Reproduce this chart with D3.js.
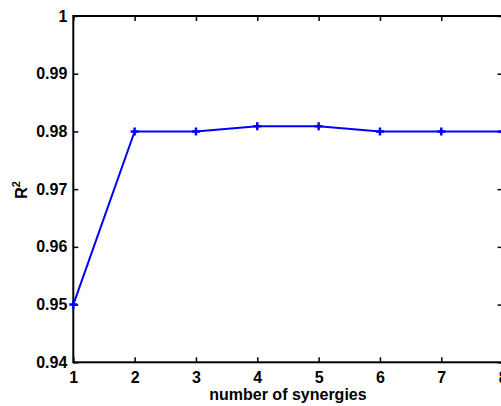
<!DOCTYPE html>
<html>
<head>
<script src="https://d3js.org/d3.v7.min.js"></script>
<style>
    body { margin: 0; background: #fff; }
    text { font-family: "Liberation Sans", Arial, sans-serif; font-weight: bold; }
</style>
</head>
<body>
<div class="diagram"></div>
<script>
    // data
    var synergies = [1, 2, 3, 4, 5, 6, 7, 8];
    var r2 = [0.95, 0.98, 0.98, 0.9809, 0.9809, 0.98, 0.98, 0.98];
    var xTicks = [1, 2, 3, 4, 5, 6, 7, 8];
    var yTicks = [0.94, 0.95, 0.96, 0.97, 0.98, 0.99, 1];

    var w = 501, h = 406;
    // plot box edges
    var pl = 73.3, pr = 502.6, pt = 16, pb = 362.3;

    var xScale = d3.scaleLinear().domain([1, 8]).range([pl, pr]);
    var yScale = d3.scaleLinear().domain([0.94, 1]).range([pb, pt]);

    var svg = d3.select("div.diagram").append("svg")
        .attr("width", w).attr("height", h);

    // box
    svg.append("rect")
        .attr("x", pl).attr("y", pt)
        .attr("width", pr - pl).attr("height", pb - pt)
        .attr("fill", "none").attr("stroke", "#000").attr("stroke-width", 2);

    // axes (ticks inward, like matlab)
    var xAxis = d3.axisBottom(xScale).tickValues(xTicks).tickSize(-5).tickPadding(9).tickFormat(d3.format("d"));
    var yAxis = d3.axisLeft(yScale).tickValues(yTicks).tickSize(-5).tickPadding(6).tickFormat(function(d) { return d === 1 ? "1" : d3.format(".2f")(d); });
    var xTop = d3.axisTop(xScale).tickValues(xTicks).tickSize(-5).tickFormat("");
    var yRight = d3.axisRight(yScale).tickValues(yTicks).tickSize(-5).tickFormat("");

    function style(g) {
        g.select(".domain").remove();
        g.selectAll(".tick line").attr("stroke", "#000").attr("stroke-width", 1.5);
        g.selectAll(".tick text").attr("fill", "#000").style("font-size", "16px");
    }
    svg.append("g").attr("transform", "translate(0," + pb + ")").call(xAxis).call(style);
    svg.append("g").attr("transform", "translate(" + pl + ",0)").call(yAxis).call(style);
    svg.append("g").attr("transform", "translate(0," + pt + ")").call(xTop).call(style);
    svg.append("g").attr("transform", "translate(" + pr + ",0)").call(yRight).call(style);

    // line
    var line = d3.line()
        .x(function(d, i) { return xScale(synergies[i]); })
        .y(function(d) { return yScale(d); });
    svg.append("path").datum(r2)
        .attr("d", line)
        .attr("fill", "none").attr("stroke", "#0000ff").attr("stroke-width", 2);

    // + markers
    var mk = svg.append("g").selectAll("g").data(r2).enter().append("g")
        .attr("transform", function(d, i) { return "translate(" + xScale(synergies[i]) + "," + yScale(d) + ")"; });
    mk.append("path").attr("d", "M-4,0H4M0,-4V4")
        .attr("stroke", "#0000ff").attr("stroke-width", 2.5);

    // labels
    svg.append("text")
        .attr("x", (pl + pr) / 2).attr("y", 400)
        .attr("text-anchor", "middle").style("font-size", "16px")
        .text("number of synergies");

    var yl = svg.append("text")
        .attr("transform", "translate(27,190) rotate(-90)")
        .attr("text-anchor", "middle").style("font-size", "16px");
    yl.append("tspan").text("R");
    yl.append("tspan").attr("dy", -7).style("font-size", "11px").text("2");
</script>
</body>
</html>
